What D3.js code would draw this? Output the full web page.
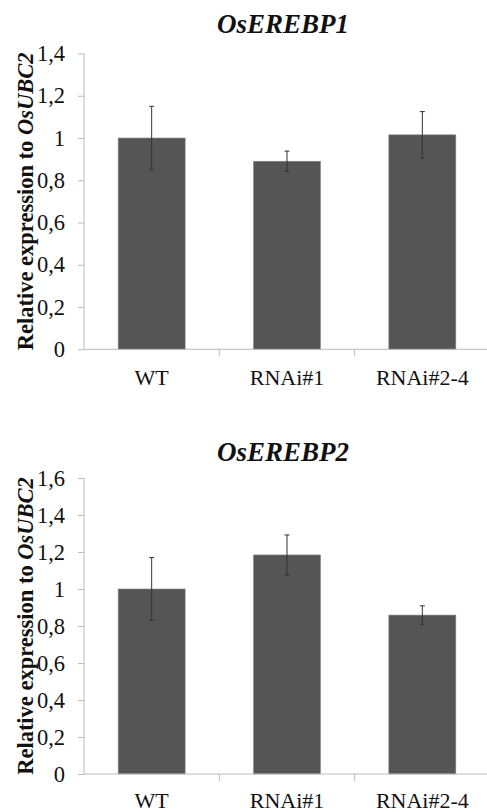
<!DOCTYPE html>
<html>
<head>
<meta charset="utf-8">
<script src="https://cdn.jsdelivr.net/npm/d3@7"></script>
<style>
  body { margin: 0; background: #fff; }
  svg { display: block; }
</style>
</head>
<body>
<div id="chart"></div>
<script>
// categories and values
let categories = ["WT", "RNAi#1", "RNAi#2-4"];

let gene1 = "OsEREBP1";
let values1 = [1.0, 0.89, 1.015];
let errors1 = [0.15, 0.048, 0.11];
let ticks1 = [0, 0.2, 0.4, 0.6, 0.8, 1.0, 1.2, 1.4];

let gene2 = "OsEREBP2";
let values2 = [1.0, 1.184, 0.859];
let errors2 = [0.17, 0.108, 0.05];
let ticks2 = [0, 0.2, 0.4, 0.6, 0.8, 1.0, 1.2, 1.4, 1.6];

let width = 487, height = 812;
let serif = "'Liberation Serif', 'Times New Roman', 'DejaVu Serif', serif";

let svg = d3.select("#chart").append("svg")
    .attr("width", width)
    .attr("height", height)
    .attr("font-family", serif);

// format 0.2 -> "0,2", 1 -> "1"
let formatTick = d => d3.format("~g")(d).replace(".", ",");

function drawPanel(gene, values, errors, ticks, top, bottom, titleY, labelPad) {
    let left = 84, right = 490;
    let x = d3.scaleBand().domain(categories).range([left, right]);
    let y = d3.scaleLinear().domain([0, ticks[ticks.length - 1]]).range([bottom, top]);

    let g = svg.append("g");

    // title
    g.append("text")
        .attr("x", 283)
        .attr("y", titleY)
        .attr("text-anchor", "middle")
        .attr("font-family", serif)
        .attr("font-size", 27)
        .attr("font-weight", "bold")
        .attr("font-style", "italic")
        .attr("fill", "#111")
        .text(gene);

    // y axis
    let yAxis = g.append("g")
        .attr("transform", `translate(${left},0)`)
        .call(d3.axisLeft(y).tickValues(ticks).tickFormat(formatTick).tickSize(6).tickPadding(13));
    yAxis.attr("font-family", serif).attr("font-size", 22.5);
    yAxis.select(".domain").attr("stroke", "#bbb").attr("d", `M0,${top}V${bottom}`);
    yAxis.selectAll(".tick line").attr("stroke", "#bbb");
    yAxis.selectAll(".tick text").attr("fill", "#111");

    // bars
    let bw = x.bandwidth() * 0.495;
    g.selectAll(".bar")
        .data(values)
        .enter().append("rect")
        .attr("x", (d, i) => x(categories[i]) + x.bandwidth() / 2 - bw / 2)
        .attr("y", d => y(d))
        .attr("width", bw)
        .attr("height", d => y(0) - y(d))
        .attr("fill", "#555")
        .attr("stroke", "#888")
        .attr("stroke-width", 0.6);

    // x axis
    let xAxis = g.append("g")
        .attr("transform", `translate(0,${bottom})`)
        .call(d3.axisBottom(x).tickSize(0).tickPadding(labelPad));
    xAxis.attr("font-family", serif).attr("font-size", 22);
    xAxis.select(".domain").attr("stroke", "#bbb").attr("d", `M${left},0H${right}`);
    xAxis.selectAll(".tick text").attr("fill", "#111");
    // category separators
    g.selectAll(".sep")
        .data(categories.slice(1))
        .enter().append("line")
        .attr("x1", d => x(d)).attr("x2", d => x(d))
        .attr("y1", bottom).attr("y2", bottom + 7)
        .attr("stroke", "#bbb");

    // error bars
    let eb = g.selectAll(".err")
        .data(values)
        .enter().append("g");
    eb.append("line")
        .attr("x1", (d, i) => x(categories[i]) + x.bandwidth() / 2)
        .attr("x2", (d, i) => x(categories[i]) + x.bandwidth() / 2)
        .attr("y1", (d, i) => y(d + errors[i]))
        .attr("y2", (d, i) => y(d - errors[i]))
        .attr("stroke", "#333")
        .attr("stroke-width", 1);
    [1, -1].forEach(s => {
        eb.append("line")
            .attr("x1", (d, i) => x(categories[i]) + x.bandwidth() / 2 - 2.5)
            .attr("x2", (d, i) => x(categories[i]) + x.bandwidth() / 2 + 2.5)
            .attr("y1", (d, i) => y(d + s * errors[i]))
            .attr("y2", (d, i) => y(d + s * errors[i]))
            .attr("stroke", "#333")
            .attr("stroke-width", 1);
    });

    // y axis label
    let lab = g.append("text")
        .attr("transform", `translate(33,${(top + bottom) / 2}) rotate(-90)`)
        .attr("text-anchor", "middle")
        .attr("font-family", serif)
        .attr("font-size", 22.5)
        .attr("font-weight", "bold")
        .attr("fill", "#111");
    lab.append("tspan").text("Relative expression to ");
    lab.append("tspan").attr("font-style", "italic").text("OsUBC2");
}

drawPanel(gene1, values1, errors1, ticks1, 53.5, 349.3, 33, 20);
drawPanel(gene2, values2, errors2, ticks2, 478, 774, 461, 18);
</script>
</body>
</html>
